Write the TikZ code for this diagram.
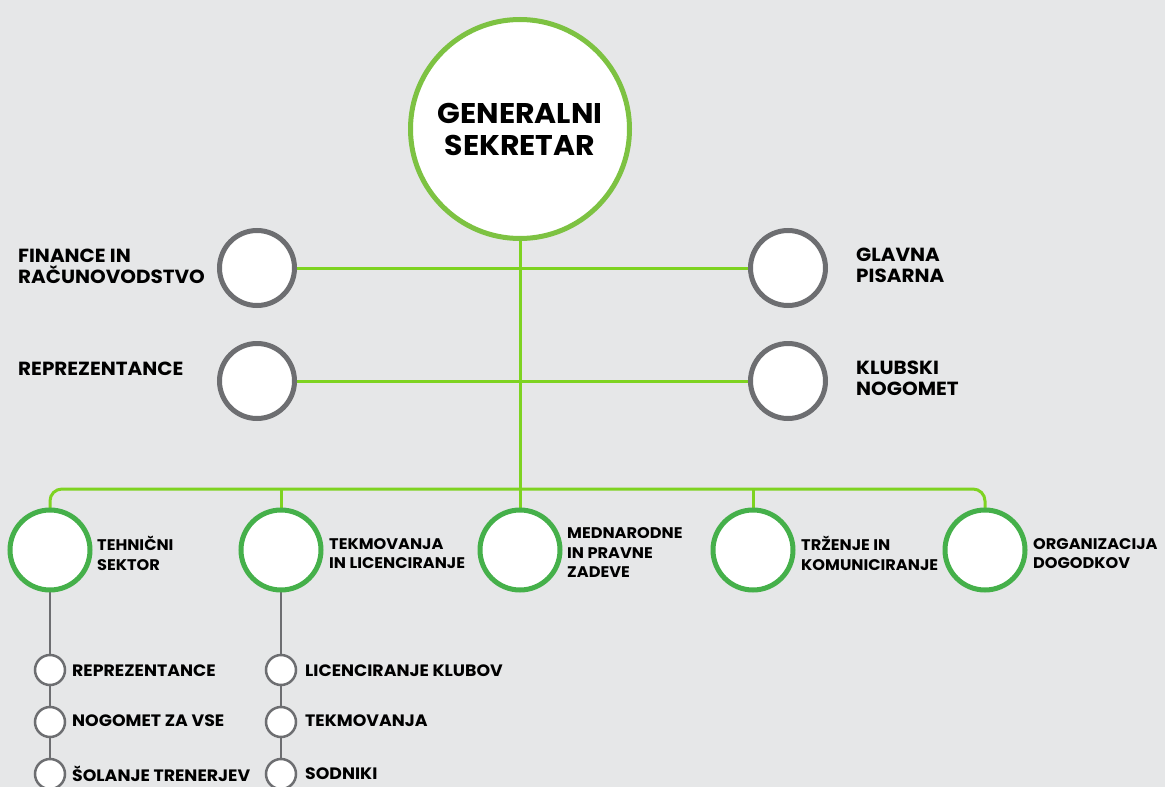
\documentclass[tikz,border=0pt]{standalone}
\usepackage{fontspec}
\setmainfont{Poppins}[FakeStretch=1.05]
\pgfdeclarelayer{paper}
\pgfdeclarelayer{wires}
\pgfsetlayers{paper,wires,main}
\definecolor{bg}{HTML}{E6E7E8}
\definecolor{topgreen}{HTML}{7DC242}
\definecolor{lime}{HTML}{7ED321}
\definecolor{nodegreen}{HTML}{45B04A}
\definecolor{greyline}{HTML}{6D6E71}
\tikzset{
  topnode/.style={circle,draw=topgreen,line width=5pt,fill=white,minimum size=219pt,inner sep=0pt,align=center,font=\bfseries\fontsize{28.5}{32}\selectfont},
  greynode/.style={circle,draw=greyline,line width=5pt,fill=white,minimum size=75pt,inner sep=0pt},
  greennode/.style={circle,draw=nodegreen,line width=5pt,fill=white,minimum size=80pt,inner sep=0pt},
  smallnode/.style={circle,draw=greyline,line width=2.5pt,fill=white,minimum size=30pt,inner sep=0pt},
  biglabel/.style={anchor=west,align=left,inner sep=0pt,font=\bfseries\fontsize{19}{21}\selectfont},
  midlabel/.style={anchor=west,align=left,inner sep=0pt,font=\bfseries\fontsize{15.4}{19.5}\selectfont},
  smalllabel/.style={anchor=west,inner sep=0pt,font=\bfseries\fontsize{16.5}{17}\selectfont},
  greenconn/.style={draw=lime,line width=3pt},
  greyconn/.style={draw=greyline,line width=2.5pt},
}
\begin{document}
\begin{tikzpicture}[x=1pt,y=-1pt]
\begin{pgfonlayer}{paper}
\fill[bg] (0,0) rectangle (1165,787);
\end{pgfonlayer}
\useasboundingbox (0,0) rectangle (1165,787);
% nodes
\node[topnode] (gs) at (520,129) {GENERALNI\\SEKRETAR};
\node[greynode] (fin) at (257,268) {};
\node[greynode] (rep) at (257,381) {};
\node[greynode] (glav) at (788,268) {};
\node[greynode] (klub) at (788,381) {};
\node[greennode] (teh) at (50,550) {};
\node[greennode] (tek) at (281,550) {};
\node[greennode] (med) at (520,550) {};
\node[greennode] (trz) at (753,550) {};
\node[greennode] (org) at (985,550) {};
\node[smallnode] (a1) at (50,670) {};
\node[smallnode] (a2) at (50,722) {};
\node[smallnode] (a3) at (50,774) {};
\node[smallnode] (b1) at (281,670) {};
\node[smallnode] (b2) at (281,722) {};
\node[smallnode] (b3) at (281,774) {};
\coordinate (j) at (520,489);
% connectors
\begin{pgfonlayer}{wires}
\draw[greenconn] (fin.center) -- (glav.center);
\draw[greenconn] (rep.center) -- (klub.center);
\draw[greenconn] (gs.center) -- (med.center);
\draw[greenconn,rounded corners=12pt] (teh.center) |- (j) -| (org.center);
\draw[greenconn] (tek.center) -- (tek |- j);
\draw[greenconn] (trz.center) -- (trz |- j);
\draw[greyconn] (teh.center) -- (a1.center);
\draw[greyconn] (a1.center) -- (a2.center);
\draw[greyconn] (a2.center) -- (a3.center);
\draw[greyconn] (tek.center) -- (b1.center);
\draw[greyconn] (b1.center) -- (b2.center);
\draw[greyconn] (b2.center) -- (b3.center);
\end{pgfonlayer}
% labels
\node[biglabel] (finl) at (18,266) {FINANCE IN\\RAČUNOVODSTVO};
\node[biglabel] (repl) at (18,368.5) {REPREZENTANCE};
\node[biglabel] (glavl) at (856,265) {GLAVNA\\PISARNA};
\node[biglabel] (klubl) at (856,378.5) {KLUBSKI\\NOGOMET};
\node[midlabel] (tehl) at (97,553.5) {TEHNIČNI\\SEKTOR};
\node[midlabel] (tekl) at (329,553.5) {TEKMOVANJA\\IN LICENCIRANJE};
\node[midlabel] (medl) at (567,553) {MEDNARODNE\\IN PRAVNE\\ZADEVE};
\node[midlabel] (trzl) at (801,553.5) {TRŽENJE IN\\KOMUNICIRANJE};
\node[midlabel] (orgl) at (1033,553.5) {ORGANIZACIJA\\DOGODKOV};
\node[smalllabel] (a1l) at (72,670.5) {REPREZENTANCE};
\node[smalllabel] (a2l) at (72,720.5) {NOGOMET ZA VSE};
\node[smalllabel] (a3l) at (72,774) {ŠOLANJE TRENERJEV};
\node[smalllabel] (b1l) at (305,670.5) {LICENCIRANJE KLUBOV};
\node[smalllabel] (b2l) at (305,720.5) {TEKMOVANJA};
\node[smalllabel] (b3l) at (305,774) {SODNIKI};
\end{tikzpicture}
\end{document}
